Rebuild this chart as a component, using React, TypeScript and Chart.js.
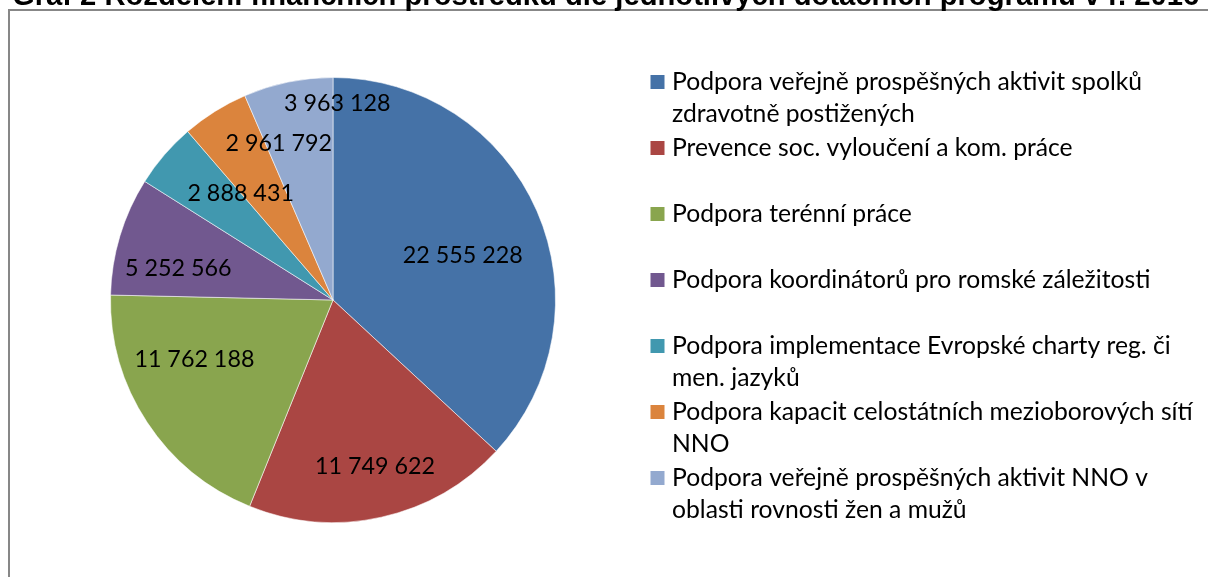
import React, { useEffect, useRef } from "react";
import { Chart, registerables } from "chart.js";

Chart.register(...registerables);

const titleText =
  "Graf 2 Rozdělení finančních prostředků dle jednotlivých dotačních programů v r. 2016";

const categories: string[][] = [
  ["Podpora veřejně prospěšných aktivit spolků", "zdravotně postižených"],
  ["Prevence soc. vyloučení a kom. práce"],
  ["Podpora terénní práce"],
  ["Podpora koordinátorů pro romské záležitosti"],
  ["Podpora implementace Evropské charty reg. či", "men. jazyků"],
  ["Podpora kapacit celostátních mezioborových sítí", "NNO"],
  ["Podpora veřejně prospěšných aktivit NNO v", "oblasti rovnosti žen a mužů"],
];

const amounts: number[] = [22555228, 11749622, 11762188, 5252566, 2888431, 2961792, 3963128];

const sliceColors: string[] = [
  "#4572A7",
  "#AA4643",
  "#89A54E",
  "#71588F",
  "#4198AF",
  "#DB843D",
  "#93A9CF",
];

// label placement (Excel "best fit" look): angular shift in degrees from slice middle, radial fraction
const labelAngleShift = [4.5, -1.7, 10.5, -5.0, 8.7, 13.0, 12.9];
const labelRadiusFrac = [0.617, 0.766, 0.676, 0.71, 0.638, 0.747, 0.886];

const fmt = (v: number) => String(v).replace(/\B(?=(\d{3})+(?!\d))/g, " ");

const FONT = "Lato, 'Open Sans', sans-serif";

const decorPlugin = {
  id: "decor",
  beforeDraw(chart: any) {
    const ctx = chart.ctx as CanvasRenderingContext2D;
    ctx.save();
    // frame
    ctx.strokeStyle = "#878787";
    ctx.lineWidth = 2;
    ctx.strokeRect(9, 10, 1300, 700);
    // title (cut at top)
    ctx.font = `bold 100px 'Liberation Sans', Arial, sans-serif`;
    const w = ctx.measureText(titleText).width;
    const size = (100 * 1188) / w;
    ctx.font = `bold ${size}px 'Liberation Sans', Arial, sans-serif`;
    ctx.fillStyle = "#000";
    ctx.textAlign = "left";
    ctx.textBaseline = "alphabetic";
    ctx.fillText(titleText, 12, 4.5);
    ctx.restore();
  },
  afterDatasetsDraw(chart: any) {
    const ctx = chart.ctx as CanvasRenderingContext2D;
    const meta = chart.getDatasetMeta(0);
    ctx.save();
    const size = 23.3;
    ctx.font = `${size}px ${FONT}`;
    ctx.fillStyle = "#000";
    ctx.textAlign = "center";
    ctx.textBaseline = "alphabetic";
    meta.data.forEach((arc: any, i: number) => {
      const mid = (arc.startAngle + arc.endAngle) / 2 + (labelAngleShift[i] * Math.PI) / 180;
      const r = arc.outerRadius * labelRadiusFrac[i];
      const x = arc.x + Math.cos(mid) * r;
      const y = arc.y + Math.sin(mid) * r;
      ctx.fillText(fmt(amounts[i]), x, y + size * 0.36);
    });
    ctx.restore();
  },
  afterDraw(chart: any) {
    const ctx = chart.ctx as CanvasRenderingContext2D;
    ctx.save();
    const size = 24.7;
    ctx.font = `${size}px ${FONT}`;
    ctx.textAlign = "left";
    ctx.textBaseline = "alphabetic";
    categories.forEach((lines, i) => {
      const base = 89.5 + 66 * i;
      ctx.fillStyle = sliceColors[i];
      ctx.fillRect(650.5, base - 14.5, 14, 14);
      ctx.fillStyle = "#000";
      lines.forEach((ln, j) => {
        ctx.fillText(ln, 672, base + 32.5 * j);
      });
    });
    ctx.restore();
  },
};

export default function App() {
  const ref = useRef<HTMLCanvasElement | null>(null);
  useEffect(() => {
    if (!ref.current) return;
    const chart = new Chart(ref.current, {
      type: "pie",
      data: {
        labels: categories.map((c) => c.join(" ")),
        datasets: [
          {
            data: amounts,
            backgroundColor: sliceColors,
            borderColor: "rgba(255,255,255,0.55)",
            borderWidth: 1,
          },
        ],
      },
      options: {
        responsive: false,
        animation: false,
        devicePixelRatio: 1,
        layout: { padding: { left: 110, right: 652, top: 77, bottom: 54 } },
        plugins: {
          legend: { display: false },
          tooltip: { enabled: false },
          title: { display: false },
        },
      },
      plugins: [decorPlugin],
    });
    return () => chart.destroy();
  }, []);
  return (
    <div style={{ position: "absolute", left: 0, top: 0, width: 1208, height: 577, background: "#fff" }}>
      <canvas ref={ref} width={1208} height={577} style={{ width: 1208, height: 577, display: "block" }} />
    </div>
  );
}
